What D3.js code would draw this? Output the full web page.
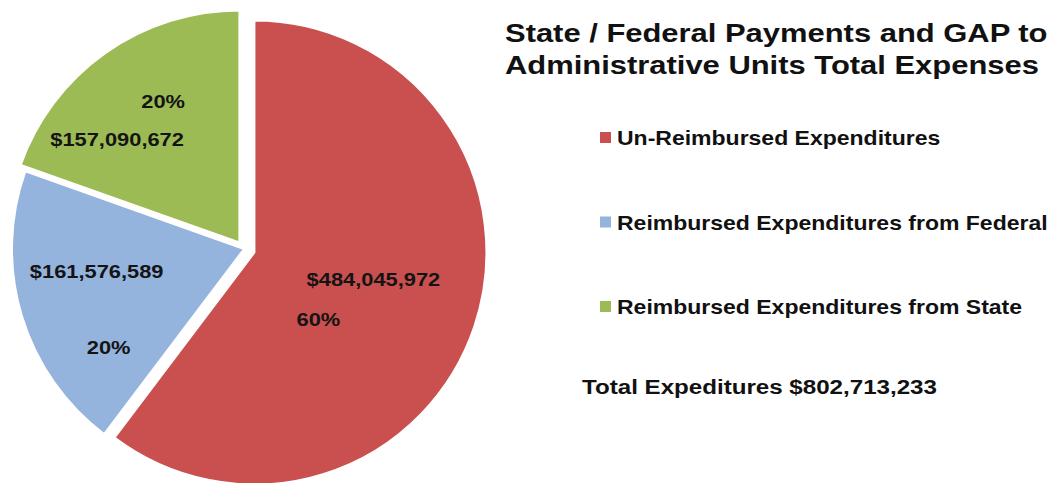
<!DOCTYPE html>
<html lang="en">
<head>
<meta charset="UTF-8">
<title>State / Federal Payments and GAP</title>
<script src="https://d3js.org/d3.v7.min.js"></script>
<style>
    html, body { margin: 0; padding: 0; background: #fff; }
    svg { display: block; font-family: "Liberation Sans", Arial, sans-serif; font-weight: bold; }
</style>
</head>
<body>
<svg id="chart"></svg>
<script>
// data
const categories = [
    "Un-Reimbursed Expenditures",
    "Reimbursed Expenditures from Federal",
    "Reimbursed Expenditures from State"
];
const amounts = [484045972, 161576589, 157090672];
const percentLabels = ["60%", "20%", "20%"];
const titleLines = [
    "State / Federal Payments and GAP to",
    "Administrative Units Total Expenses"
];
const totalLabel = "Total Expeditures $802,713,233";

const width = 1055;
const height = 483;

const svg = d3.select("#chart")
    .attr("width", width)
    .attr("height", height);

const color = d3.scaleOrdinal()
    .domain(categories)
    .range(["#c9504f", "#94b3dd", "#9dbb55"]);

const cx = 244, cy = 249, radius = 232;
// explode distance per slice (px)
const explode = { [categories[0]]: 11, [categories[1]]: 0, [categories[2]]: 8 };

// the original text is a bit wider than Arial, stretch it horizontally
const stretch = 1.15;

const rows = categories.map((c, i) => ({ name: c, value: amounts[i], pct: percentLabels[i] }));

const pie = d3.pie().sort(null).value(d => d.value);
const arcs = pie(rows);

const arc = d3.arc().innerRadius(0).outerRadius(radius);
const labelArc = d3.arc().innerRadius(radius * 0.6).outerRadius(radius * 0.6);

const fmt = d3.format("$,");

function offset(d) {
    const a = (d.startAngle + d.endAngle) / 2;
    const e = explode[d.data.name];
    return [Math.sin(a) * e, -Math.cos(a) * e];
}

function addText(sel, x, y, s) {
    return sel.append("text")
        .attr("transform", `translate(${x},${y}) scale(${s},1)`);
}

const pieG = svg.append("g").attr("transform", `translate(${cx},${cy})`);

const slice = pieG.selectAll("g.slice")
    .data(arcs)
    .enter()
    .append("g")
    .attr("class", "slice")
    .attr("transform", d => `translate(${offset(d)})`);

slice.append("path")
    .attr("d", arc)
    .attr("fill", d => color(d.data.name))
    .attr("stroke", "#fff")
    .attr("stroke-width", 2);

// label nudges relative to the slice centroid (value line, percent line)
const nudge = {
    [categories[0]]: { value: [-13, -17], pct: [-68, 23] },
    [categories[1]]: { value: [-14, -17], pct: [-2, 59] },
    [categories[2]]: { value: [-42, 11], pct: [4, -27] }
};

slice.each(function (d) {
    const g = d3.select(this);
    const [x, y] = labelArc.centroid(d);
    const n = nudge[d.data.name];
    addText(g, x + n.value[0], y + n.value[1] + 6.5, stretch)
        .attr("text-anchor", "middle")
        .style("font-size", "19px")
        .style("fill", "#141414")
        .text(fmt(d.data.value));
    addText(g, x + n.pct[0], y + n.pct[1] + 6.5, stretch)
        .attr("text-anchor", "middle")
        .style("font-size", "19px")
        .style("fill", "#141414")
        .text(d.data.pct);
});

// title
titleLines.forEach((t, i) => {
    addText(svg, 505, 42 + i * 32, 1.19)
        .style("font-size", "26px")
        .style("fill", "#111")
        .text(t);
});

// legend
const legendY = d3.scalePoint().domain(categories).range([138, 307]);

const legend = svg.append("g")
    .selectAll("g")
    .data(categories)
    .enter()
    .append("g")
    .attr("transform", d => `translate(600,${legendY(d)})`);

legend.append("rect")
    .attr("x", 0)
    .attr("y", -6)
    .attr("width", 11)
    .attr("height", 11)
    .attr("fill", d => color(d));

legend.append("text")
    .attr("transform", `translate(17,7) scale(${stretch},1)`)
    .style("font-size", "20px")
    .style("fill", "#111")
    .text(d => d);

addText(svg, 582, 394, stretch)
    .style("font-size", "21px")
    .style("fill", "#111")
    .text(totalLabel);
</script>
</body>
</html>
